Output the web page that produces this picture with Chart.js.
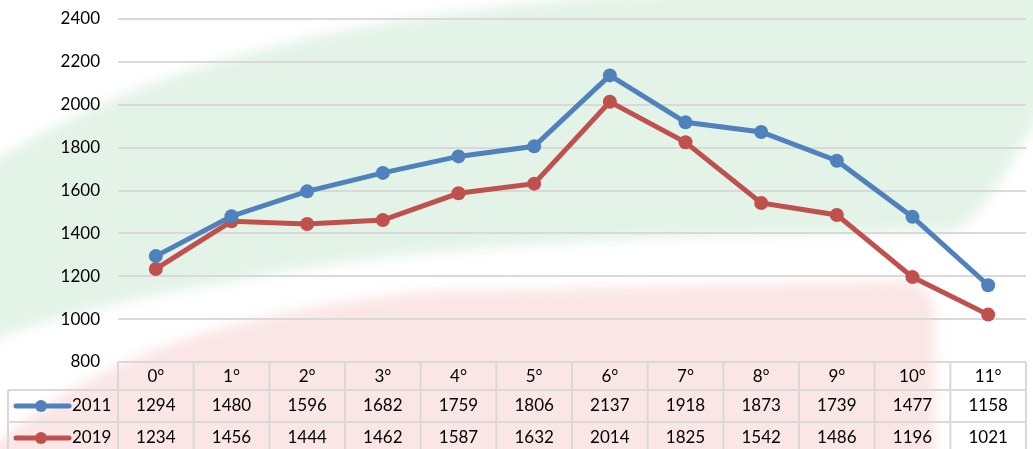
<!DOCTYPE html>
<html>
<head>
<meta charset="utf-8">
<script src="https://cdn.jsdelivr.net/npm/chart.js@4"></script>
<style>
  html, body { margin: 0; padding: 0; background: #fff; }
  #wrap { width: 1033px; height: 449px; position: relative; }
</style>
</head>
<body>
<div id="wrap"><canvas id="classChart"></canvas></div>
<script>
const classi = ['0°', '1°', '2°', '3°', '4°', '5°', '6°', '7°', '8°', '9°', '10°', '11°'];
const anni = ['2011', '2019'];
const valori2011 = [1294, 1480, 1596, 1682, 1759, 1806, 2137, 1918, 1873, 1739, 1477, 1158];
const valori2019 = [1234, 1456, 1444, 1462, 1587, 1632, 2014, 1825, 1542, 1486, 1196, 1021];
const colori = ['#4f81bd', '#c0504d'];

const FONT = 'Lato, "Open Sans", sans-serif';
const BORDO = '#d9d9d9';

// sfondo: due fasce sfumate verde e rossa
const sfondo = {
    id: 'sfondo',
    beforeDraw(chart) {
        const ctx = chart.ctx;
        ctx.save();
        ctx.fillStyle = '#fff';
        ctx.fillRect(0, 0, chart.width, chart.height);
        ctx.filter = 'blur(6px)';

        ctx.fillStyle = '#e4f3e8';
        ctx.beginPath();
        ctx.moveTo(-20, 170);
        ctx.bezierCurveTo(150, 60, 350, 10, 700, -10);
        ctx.lineTo(1050, -10);
        ctx.lineTo(1050, 100);
        ctx.bezierCurveTo(1010, 160, 990, 215, 950, 232);
        ctx.bezierCurveTo(700, 232, 400, 245, 230, 282);
        ctx.bezierCurveTo(120, 300, 40, 320, -20, 345);
        ctx.closePath();
        ctx.fill();

        ctx.fillStyle = '#fbe6e6';
        ctx.beginPath();
        ctx.moveTo(-20, 470);
        ctx.lineTo(-20, 460);
        ctx.bezierCurveTo(60, 380, 180, 318, 420, 292);
        ctx.lineTo(900, 281);
        ctx.bezierCurveTo(925, 283, 935, 295, 935, 320);
        ctx.lineTo(935, 470);
        ctx.closePath();
        ctx.fill();
        ctx.restore();
    }
};

// tabella dati sotto il grafico
const tabella = {
    id: 'tabella',
    afterDraw(chart) {
        const ctx = chart.ctx;
        const x = chart.scales.x;
        const top = chart.chartArea.bottom;
        const colW = (x.right - x.left) / classi.length;
        const righe = [top, top + 28, top + 60, top + 92];
        const serie = [valori2011, valori2019];

        ctx.save();
        ctx.strokeStyle = BORDO;
        ctx.lineWidth = 2;
        ctx.beginPath();
        ctx.moveTo(x.left, righe[0]);
        ctx.lineTo(x.right, righe[0]);
        ctx.moveTo(8, righe[1]);
        ctx.lineTo(x.right, righe[1]);
        ctx.moveTo(8, righe[2]);
        ctx.lineTo(x.right, righe[2]);
        ctx.moveTo(8, righe[1]);
        ctx.lineTo(8, righe[3]);
        for (let i = 0; i <= classi.length; i++) {
            const cx = x.left + i * colW;
            ctx.moveTo(cx, righe[0]);
            ctx.lineTo(cx, righe[3]);
        }
        ctx.stroke();

        ctx.fillStyle = '#000';
        ctx.font = '17px ' + FONT;
        ctx.textAlign = 'center';
        ctx.textBaseline = 'middle';
        classi.forEach((c, i) => {
            ctx.fillText(c, x.getPixelForValue(i), (righe[0] + righe[1]) / 2 + 1);
        });
        serie.forEach((vals, s) => {
            const cy = (righe[s + 1] + righe[s + 2]) / 2;
            vals.forEach((v, i) => {
                ctx.fillText(String(v), x.getPixelForValue(i), cy);
            });
            // chiave della legenda
            ctx.strokeStyle = colori[s];
            ctx.lineWidth = 5;
            ctx.lineCap = 'round';
            ctx.beginPath();
            ctx.moveTo(16, cy);
            ctx.lineTo(69, cy);
            ctx.stroke();
            ctx.fillStyle = colori[s];
            ctx.beginPath();
            ctx.arc(41, cy, 6, 0, Math.PI * 2);
            ctx.fill();
            ctx.fillStyle = '#000';
            ctx.textAlign = 'left';
            ctx.fillText(anni[s], 72, cy);
            ctx.textAlign = 'center';
        });
        ctx.restore();
    }
};

new Chart(document.getElementById('classChart'), {
    type: 'line',
    data: {
        labels: classi,
        datasets: [
            {
                label: anni[0],
                data: valori2011,
                borderColor: colori[0],
                backgroundColor: colori[0],
                borderWidth: 5,
                pointRadius: 7,
                pointBorderWidth: 0,
                tension: 0
            },
            {
                label: anni[1],
                data: valori2019,
                borderColor: colori[1],
                backgroundColor: colori[1],
                borderWidth: 5,
                pointRadius: 7,
                pointBorderWidth: 0,
                tension: 0
            }
        ]
    },
    options: {
        responsive: true,
        maintainAspectRatio: false,
        animation: false,
        layout: { padding: { top: 19, bottom: 87, left: 0, right: 0 } },
        plugins: {
            legend: { display: false },
            tooltip: { enabled: false }
        },
        scales: {
            x: {
                display: false,
                offset: true
            },
            y: {
                min: 800,
                max: 2400,
                ticks: {
                    stepSize: 200,
                    padding: 18,
                    color: '#000',
                    font: { family: FONT, size: 17 },
                    callback: v => String(v)
                },
                grid: { color: BORDO, lineWidth: 2, drawTicks: false },
                border: { display: false },
                afterFit(scale) {
                    // larghezza fissa e niente margine extra sopra/sotto
                    scale.width = 118;
                    scale.paddingTop = 0;
                    scale.paddingBottom = 0;
                }
            }
        }
    },
    plugins: [sfondo, tabella]
});
</script>
</body>
</html>
